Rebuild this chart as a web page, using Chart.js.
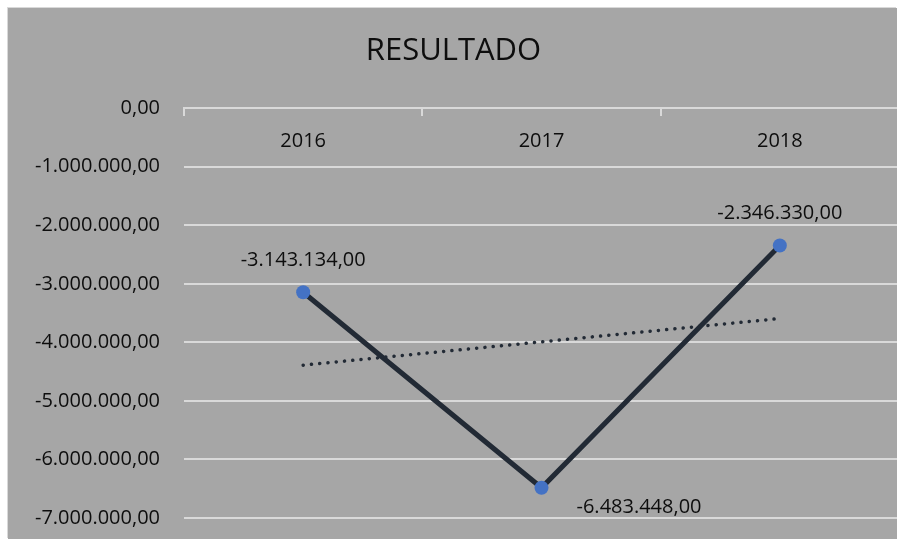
<!DOCTYPE html>
<html>
<head>
<meta charset="utf-8">
<script src="https://cdn.jsdelivr.net/npm/chart.js@4"></script>
<style>
  html, body { margin: 0; padding: 0; overflow: hidden; background: #fff; width: 897px; height: 539px; }
  .box { position: absolute; left: 8px; top: 8px; width: 889px; height: 531px; background: #a6a6a6;
         overflow: hidden; box-shadow: -1px -1px 0 #d9d9d9; }
</style>
</head>
<body>
<div class="box"><canvas id="myLineChart" width="905" height="560"></canvas></div>
<script>
'use strict';

// datos
const years = ['2016', '2017', '2018'];
const resultado = [-3143134, -6483448, -2346330];
// línea de tendencia lineal (extremos)
const tendencia = [-4389373, -3990971, -3592569];
const yTicks = [0, -1000000, -2000000, -3000000, -4000000, -5000000, -6000000, -7000000];

// 1234567.5 -> "1.234.567,50"
function formatNum(v) {
  const neg = v < 0;
  const parts = Math.abs(v).toFixed(2).split('.');
  const ent = parts[0].replace(/\B(?=(\d{3})+(?!\d))/g, '.');
  return (neg ? '-' : '') + ent + ',' + parts[1];
}

const FONT = "'Open Sans', sans-serif";

// etiquetas de datos encima / a la derecha de cada punto
const dataLabels = {
  id: 'dataLabels',
  afterDatasetsDraw(chart) {
    const meta = chart.getDatasetMeta(0);
    const place = [[0, -32, 'center'], [35, 20, 'left'], [0, -32, 'center']];
    const ctx = chart.ctx;
    ctx.save();
    ctx.font = '20px ' + FONT;
    ctx.fillStyle = '#0d0d0d';
    ctx.textBaseline = 'middle';
    meta.data.forEach((pt, i) => {
      ctx.textAlign = place[i][2];
      ctx.fillText(formatNum(resultado[i]), pt.x + place[i][0], pt.y + place[i][1]);
    });
    ctx.restore();
  }
};

var ctx = document.getElementById('myLineChart');
var myChart = new Chart(ctx, {
  type: 'line',
  data: {
    labels: years,
    datasets: [
      {
        label: 'RESULTADO',
        data: resultado,
        borderColor: '#222a35',
        borderWidth: 5,
        pointRadius: 7,
        pointHoverRadius: 7,
        pointBackgroundColor: '#4472c4',
        pointBorderWidth: 0,
        lineTension: 0,
        order: 0
      },
      {
        label: 'Lineal',
        data: tendencia,
        borderColor: '#222a35',
        borderWidth: 3.5,
        borderDash: [0.1, 8.2],
        borderCapStyle: 'round',
        pointRadius: 0,
        lineTension: 0,
        order: 1
      }
    ]
  },
  plugins: [dataLabels],
  options: {
    responsive: false,
    animation: false,
    layout: { padding: { left: 0, right: 14, top: 0, bottom: 50 } },
    plugins: {
      legend: { display: false },
      tooltip: { enabled: false },
      title: {
        display: true,
        text: 'RESULTADO',
        color: '#0d0d0d',
        font: { family: FONT, size: 31, weight: 'normal' },
        padding: { top: 25, bottom: 38 }
      }
    },
    scales: {
      x: {
        position: { y: 0 },
        offset: true,
        grid: {
          offset: true,
          drawOnChartArea: false,
          drawTicks: true,
          tickLength: 7,
          color: '#d9d9d9',
          lineWidth: 2
        },
        border: { display: true, color: '#d9d9d9', width: 2 },
        ticks: {
          color: '#0d0d0d',
          padding: 14,
          autoSkip: false,
          maxRotation: 0,
          font: { family: FONT, size: 20 }
        }
      },
      y: {
        min: -7000000,
        max: 0,
        afterFit(scale) { scale.width = 176; },
        afterBuildTicks(scale) { scale.ticks = yTicks.map(v => ({ value: v })); },
        grid: { color: '#d9d9d9', lineWidth: 2, drawTicks: false },
        border: { display: false },
        ticks: {
          color: '#0d0d0d',
          padding: 24,
          font: { family: FONT, size: 20 },
          callback: v => formatNum(v)
        }
      }
    }
  }
});
</script>
</body>
</html>
